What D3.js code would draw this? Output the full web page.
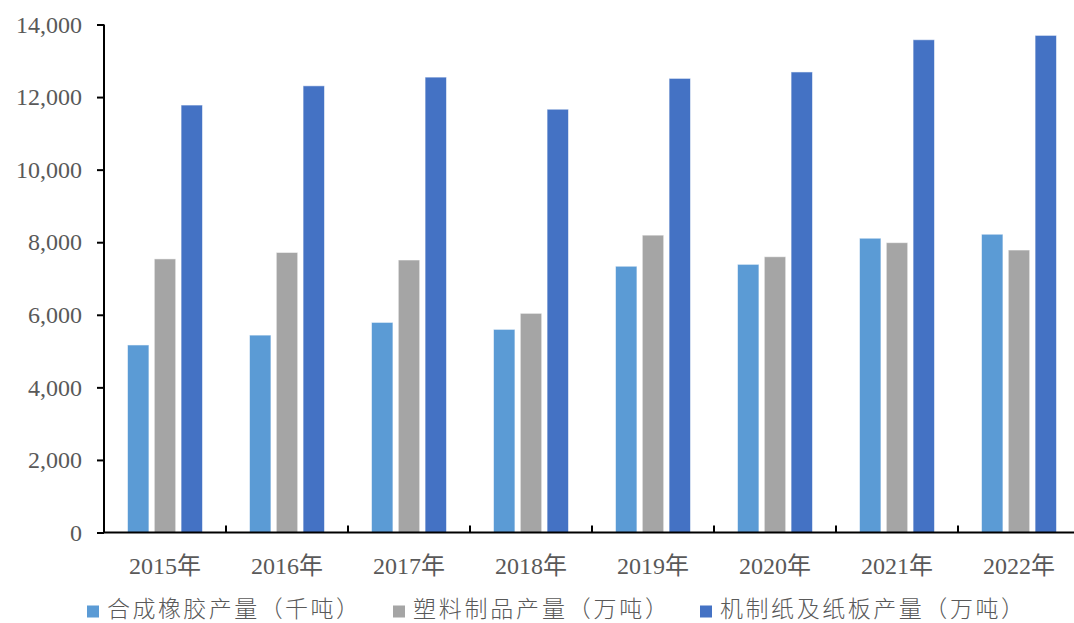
<!DOCTYPE html>
<html>
<head>
<meta charset="utf-8">
<script src="https://cdn.jsdelivr.net/npm/d3@7"></script>
<style>
  html, body { margin: 0; padding: 0; background: #fff; }
  svg { display: block; }
</style>
</head>
<body>
<svg id="chart" width="1074" height="623"></svg>
<script>
const years = ["2015年","2016年","2017年","2018年","2019年","2020年","2021年","2022年"];
const seriesNames = ["合成橡胶产量（千吨）","塑料制品产量（万吨）","机制纸及纸板产量（万吨）"];
const rubber = [5168, 5440, 5790, 5598, 7338, 7390, 8110, 8220];
const plastic = [7540, 7718, 7510, 6040, 8195, 7600, 7988, 7785];
const paper = [11780, 12310, 12550, 11665, 12515, 12692, 13580, 13700];
const yTicks = [0, 2000, 4000, 6000, 8000, 10000, 12000, 14000];
const colors = ["#5B9BD5", "#A5A5A5", "#4472C4"];
const seriesValues = [rubber, plastic, paper];

const svg = d3.select("#chart");
const plotLeft = 104, plotRight = 1080, plotTop = 24.5, plotBottom = 532.5;

const x0 = d3.scaleBand().domain(years).range([plotLeft, plotRight]).paddingInner(0).paddingOuter(0);
const groupW = 75;
const x1 = d3.scaleBand().domain(seriesNames)
  .range([x0.bandwidth()/2 - groupW/2, x0.bandwidth()/2 + groupW/2])
  .paddingInner(0.2).paddingOuter(0);
const y = d3.scaleLinear().domain([0, 14000]).range([plotBottom, plotTop]);

const serifFont = "'Liberation Serif', 'Times New Roman', serif";
const cjkFont = "'Noto Sans CJK SC', sans-serif";

// bars
const groups = svg.append("g").selectAll("g")
  .data(years).join("g")
  .attr("transform", d => `translate(${x0(d)},0)`);

groups.selectAll("rect")
  .data((d, i) => seriesNames.map((s, k) => ({s, k, v: seriesValues[k][i]})))
  .join("rect")
  .attr("x", d => x1(d.s))
  .attr("width", x1.bandwidth())
  .attr("y", d => y(d.v))
  .attr("height", d => y(0) - y(d.v))
  .attr("fill", d => colors[d.k])
  .attr("stroke", "rgba(255,255,255,0.55)")
  .attr("stroke-width", 1);

// y axis
const yAxis = d3.axisLeft(y).tickValues(yTicks).tickSize(7).tickPadding(15)
  .tickFormat(d3.format(","));
const gy = svg.append("g").attr("transform", `translate(${plotLeft},0)`).call(yAxis);
gy.select(".domain").attr("stroke", "#000").attr("stroke-width", 2).attr("d", `M0,${plotTop}V${plotBottom}`);
gy.selectAll(".tick line").attr("stroke", "#000").attr("stroke-width", 2);
gy.selectAll(".tick text").attr("font-family", serifFont).attr("font-size", 24)
  .attr("fill", "#595959");

// x axis
const xAxis = d3.axisBottom(x0).tickSize(0).tickPadding(24);
const gx = svg.append("g").attr("transform", `translate(0,${plotBottom})`).call(xAxis);
gx.select(".domain").attr("stroke", "#000").attr("stroke-width", 2).attr("d", `M${plotLeft},0H${plotRight}`);
gx.selectAll(".tick text").attr("font-family", serifFont + ", " + cjkFont).attr("font-size", 24)
  .attr("fill", "#595959").attr("dy", "0.71em");

// boundary ticks (inside, upward)
const bounds = years.slice(1).map(d => x0(d));
svg.append("g").selectAll("line").data(bounds).join("line")
  .attr("x1", d => d).attr("x2", d => d)
  .attr("y1", plotBottom).attr("y2", plotBottom - 7)
  .attr("stroke", "#000").attr("stroke-width", 2);

// legend
const legendX = [87, 393, 700];
const legendLen = [252, 255, 304];
const legend = svg.append("g").selectAll("g").data(seriesNames).join("g")
  .attr("transform", (d, i) => `translate(${legendX[i]},0)`);
legend.append("rect").attr("x", 0).attr("y", 605.5).attr("width", 12).attr("height", 12)
  .attr("fill", (d, i) => colors[i]);
legend.append("text").attr("x", 20).attr("y", 616.5)
  .attr("font-family", cjkFont).attr("font-size", 23).attr("font-weight", 300)
  .attr("textLength", (d, i) => legendLen[i]).attr("lengthAdjust", "spacing")
  .attr("fill", "#595959").text(d => d);
</script>
</body>
</html>
